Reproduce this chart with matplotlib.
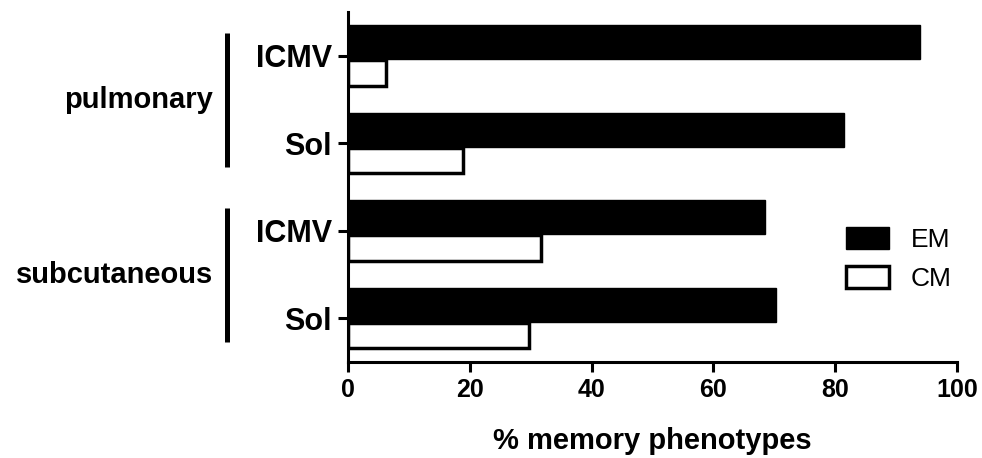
import matplotlib
matplotlib.use('Agg')
import matplotlib.pyplot as plt
import matplotlib.transforms as mtransforms
import numpy as np

# data
conditions = ['ICMV', 'Sol', 'ICMV', 'Sol']
em_values = [94.0, 81.5, 68.5, 70.3]
cm_values = [6.3, 18.8, 31.7, 29.8]
groups = ['pulmonary', 'subcutaneous']
group_rows = [(0, 1), (2, 3)]
xticks = [0, 20, 40, 60, 80, 100]

plt.rcParams['font.family'] = ['Liberation Sans', 'DejaVu Sans']

fig = plt.figure(figsize=(9.82, 4.58), dpi=100)
ax = fig.add_axes([0.3544, 0.2096, 0.6201, 0.7642])

y = np.arange(len(conditions))
ax.barh(y - 0.155, em_values, height=0.39, color='black', edgecolor='black',
        linewidth=1.0, label='EM')
ax.barh(y + 0.195, cm_values, height=0.29, color='white', edgecolor='black',
        linewidth=2.5, label='CM')

ax.set_xlim(0, 100)
ax.set_ylim(3.5, -0.5)
ax.set_xticks(xticks)
ax.set_xticklabels([str(t) for t in xticks], fontsize=18, fontweight='bold')
ax.set_yticks(y)
ax.set_yticklabels(conditions, fontsize=22, fontweight='bold')
ax.tick_params(axis='both', direction='out', width=2.2, length=7.5, color='black')
ax.tick_params(axis='x', pad=4)
ax.tick_params(axis='y', pad=4)

for side in ['top', 'right']:
    ax.spines[side].set_visible(False)
for side in ['left', 'bottom']:
    ax.spines[side].set_linewidth(2.2)

ax.set_xlabel('% memory phenotypes', fontsize=21, fontweight='bold', va='top')
ax.xaxis.set_label_coords(0.5, -0.186)

# group brackets on the left
trans = mtransforms.blended_transform_factory(ax.transAxes, ax.transData)
for name, (r0, r1) in zip(groups, group_rows):
    ax.plot([-0.199, -0.199], [r0 - 0.26, r1 + 0.27], color='black', lw=3.6,
            transform=trans, clip_on=False, solid_capstyle='butt')
    ax.text(-0.222, (r0 + r1) / 2, name, transform=trans, ha='right', va='center',
            fontsize=21, fontweight='bold')

ax.legend(loc='upper left', bbox_to_anchor=(0.818, 0.386), frameon=False,
          fontsize=19, borderpad=0, borderaxespad=0, handlelength=1.63,
          handleheight=0.9, handletextpad=0.83, labelspacing=0.52)

fig.savefig('out.png', dpi=100)
